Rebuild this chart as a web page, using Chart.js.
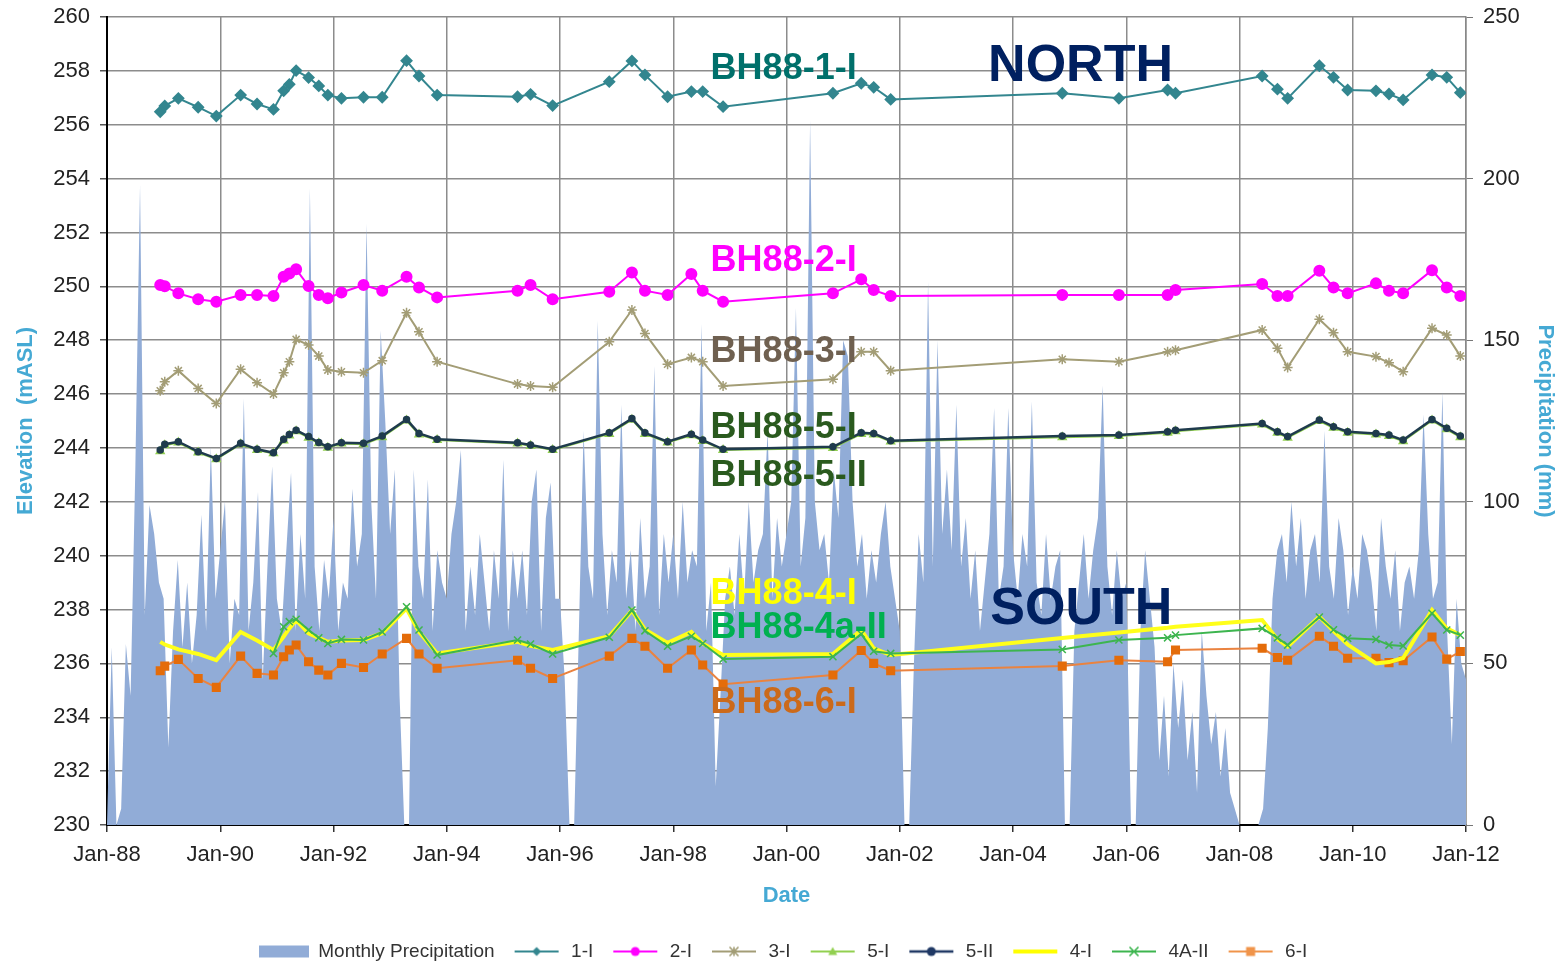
<!DOCTYPE html>
<html><head><meta charset="utf-8">
<script src="https://cdn.jsdelivr.net/npm/chart.js@4.4.1/dist/chart.umd.min.js"></script>
<style>html,body{margin:0;padding:0;background:#fff;overflow:hidden;}#wrap{width:1566px;height:965px;}</style>
</head><body><div id="wrap"><canvas id="c" width="1566" height="965"></canvas></div>
<script>
// ---------- DATA ----------
// sampling dates (decimal years) shared by the borehole series
const sampleDates = [1988.94,1989.02,1989.26,1989.61,1989.93,1990.36,1990.65,1990.94,1991.12,1991.22,
  1991.34,1991.56,1991.74,1991.90,1992.14,1992.53,1992.86,1993.29,1993.51,1993.83,
  1995.25,1995.48,1995.87,1996.87,1997.27,1997.50,1997.90,1998.32,1998.52,1998.88,
  2000.82,2001.32,2001.54,2001.84,2004.87,2005.87,2006.73,2006.87,2008.40,2008.67,
  2008.85,2009.41,2009.66,2009.91,2010.41,2010.64,2010.89,2011.40,2011.66,2011.90];

const bh1I = [256.48,256.70,256.98,256.65,256.32,257.10,256.77,256.57,257.26,257.50,
  258.01,257.75,257.44,257.10,256.98,257.02,257.02,258.38,257.81,257.10,
  257.04,257.13,256.71,257.60,258.37,257.85,257.04,257.23,257.23,256.67,
  257.17,257.54,257.39,256.94,257.17,256.98,257.29,257.17,257.81,257.32,
  256.98,258.19,257.76,257.29,257.26,257.14,256.92,257.85,257.76,257.19];

const bh2I = [250.05,250.00,249.74,249.52,249.43,249.68,249.68,249.64,250.36,250.48,
  250.63,250.01,249.68,249.56,249.77,250.05,249.84,250.36,249.96,249.59,
  249.84,250.05,249.52,249.80,250.51,249.84,249.68,250.46,249.84,249.43,
  249.74,250.26,249.86,249.64,249.68,249.68,249.68,249.86,250.09,249.64,
  249.64,250.58,249.96,249.74,250.11,249.84,249.74,250.60,249.96,249.64];

const bh3I = [246.12,246.46,246.87,246.21,245.65,246.92,246.42,246.00,246.79,247.20,
  248.03,247.82,247.41,246.89,246.83,246.79,247.24,249.02,248.31,247.20,
  246.37,246.30,246.25,247.94,249.12,248.25,247.11,247.36,247.20,246.30,
  246.55,247.57,247.57,246.87,247.29,247.20,247.57,247.63,248.38,247.70,
  246.99,248.78,248.28,247.57,247.39,247.16,246.83,248.44,248.19,247.41];

const bh5I = [243.88,244.10,244.20,243.83,243.58,244.14,243.92,243.80,244.28,244.46,
  244.62,244.38,244.17,244.01,244.16,244.14,244.40,245.02,244.50,244.29,
  244.16,244.08,243.92,244.52,245.05,244.52,244.20,244.47,244.26,243.92,
  244.00,244.52,244.50,244.24,244.40,244.44,244.56,244.62,244.87,244.56,
  244.38,245.00,244.75,244.56,244.50,244.44,244.25,245.02,244.69,244.40];

const bh5II = [243.92,244.14,244.23,243.86,243.61,244.17,243.95,243.82,244.32,244.50,
  244.66,244.42,244.20,244.04,244.19,244.17,244.44,245.06,244.54,244.32,
  244.19,244.11,243.95,244.56,245.09,244.56,244.23,244.51,244.29,243.95,
  244.04,244.56,244.54,244.27,244.44,244.48,244.60,244.66,244.91,244.60,
  244.42,245.04,244.79,244.60,244.54,244.48,244.29,245.06,244.73,244.44];

const bh4I = [236.80,236.70,236.52,236.35,236.12,237.17,236.85,236.50,237.00,237.30,
  237.61,237.12,236.95,236.80,236.85,236.87,237.12,238.04,237.17,236.37,
  236.80,236.65,236.50,237.01,237.96,237.26,236.76,237.17,236.74,236.31,
  236.35,237.24,236.56,236.31,236.94,237.15,237.32,237.36,237.61,236.90,
  236.62,237.74,237.20,236.70,236.00,236.05,236.20,237.98,237.30,237.05];

const bh4AII = [null,null,null,null,null,null,null,236.37,237.36,237.55,
  237.64,237.24,236.95,236.74,236.89,236.87,237.17,238.10,237.24,236.31,
  236.87,236.72,236.35,236.97,237.98,237.21,236.64,237.01,236.74,236.16,
  236.25,237.09,236.45,236.37,236.52,236.87,236.95,237.05,237.30,236.95,
  236.68,237.72,237.25,236.93,236.89,236.68,236.65,237.86,237.24,237.05];

const bh6I = [235.73,235.90,236.15,235.44,235.11,236.27,235.63,235.57,236.25,236.50,
  236.68,236.06,235.75,235.57,236.00,235.85,236.35,236.93,236.35,235.82,
  236.12,235.82,235.44,236.27,236.93,236.64,235.82,236.50,235.94,235.23,
  235.57,236.48,236.00,235.73,235.90,236.12,236.06,236.50,236.56,236.22,
  236.12,237.01,236.64,236.19,236.19,236.03,236.10,236.98,236.16,236.44];

// monthly precipitation (mm), Jan-1988 ... Jan-2012
const precipStartYear = 1988;
const precipMonthly = [
  0,55,0,5,56,40,110,198,65,99,90,75,
  70,24,60,82,55,75,50,65,96,60,117,70,
  85,100,50,70,65,132,60,75,103,45,80,111,
  70,60,85,109,60,90,70,197,80,60,82,70,
  95,60,75,70,104,80,90,186,100,70,153,124,
  90,110,40,0,0,110,80,70,107,60,85,75,
  70,90,100,116,60,80,65,90,75,60,85,70,
  113,60,85,70,85,65,100,110,60,95,106,70,
  70,45,0,0,60,122,80,70,156,90,65,85,
  75,130,70,85,60,95,70,80,142,65,90,75,
  90,70,100,75,85,80,155,60,75,12,40,70,
  80,65,90,70,100,75,85,90,122,70,95,80,
  90,100,160,80,95,218,100,85,90,75,110,95,
  150,145,100,80,90,70,85,75,90,100,80,70,
  60,0,0,50,90,75,168,80,150,90,110,85,
  130,80,95,70,85,60,75,90,129,70,80,129,
  85,70,90,80,131,75,65,90,70,80,85,0,
  0,60,75,90,70,85,95,136,80,65,85,70,
  75,0,0,60,85,70,55,20,40,15,50,30,
  45,20,35,10,60,40,25,35,15,30,10,5,
  0,0,0,0,0,5,30,70,85,90,75,100,
  80,95,70,85,90,75,122,80,70,95,85,65,
  80,70,90,85,75,60,95,80,70,85,60,75,
  80,70,85,127,90,70,75,134,60,25,70,50,
  45];

const seriesLabels = ['Monthly Precipitation','1-I','2-I','3-I','5-I','5-II','4-I','4A-II','6-I'];
const wellLabelTexts = ['BH88-1-I','NORTH','BH88-2-I','BH88-3-I','BH88-5-I','BH88-5-II','BH88-4-I','BH88-4a-II','BH88-6-I','SOUTH'];

// ---------- BUILD ----------
const FONT = "'Liberation Sans', Arial, sans-serif";
Chart.defaults.font.family = FONT;

function pts(vals){ const out=[]; sampleDates.forEach((d,i)=>{ if(vals[i]!==null) out.push({x:d,y:vals[i]}); }); return out; }
const precipPts = precipMonthly.map((v,i)=>({x: precipStartYear + i/12, y: v}));

const C = {
  precip:'#91ACD7', s1:'#33868F', s2:'#FF00FF', s3:'#A39D76', s5I:'#92D050', s5II:'#1F3B4D',
  s4I:'#FFFF1A', s4A:'#3DB54F', s6:'#E46C0A', axisTitle:'#45A9D4'
};

function drawMarker(ctx, type, x, y, r, color){
  ctx.fillStyle = color; ctx.strokeStyle = color; ctx.lineWidth = 1.6;
  ctx.beginPath();
  if(type==='diamond'){ ctx.moveTo(x,y-r); ctx.lineTo(x+r,y); ctx.lineTo(x,y+r); ctx.lineTo(x-r,y); ctx.closePath(); ctx.fill(); }
  else if(type==='circle'){ ctx.arc(x,y,r,0,Math.PI*2); ctx.fill(); }
  else if(type==='square'){ ctx.rect(x-r,y-r,2*r,2*r); ctx.fill(); }
  else if(type==='triangle'){ ctx.moveTo(x,y-r); ctx.lineTo(x+r,y+r*0.8); ctx.lineTo(x-r,y+r*0.8); ctx.closePath(); ctx.fill(); }
  else if(type==='star'){ ctx.moveTo(x-r,y-r); ctx.lineTo(x+r,y+r); ctx.moveTo(x+r,y-r); ctx.lineTo(x-r,y+r); ctx.moveTo(x,y-r); ctx.lineTo(x,y+r); ctx.stroke(); }
  else if(type==='cross'){ ctx.moveTo(x-r,y-r); ctx.lineTo(x+r,y+r); ctx.moveTo(x+r,y-r); ctx.lineTo(x-r,y+r); ctx.stroke(); }
}
function icon(kind, color, marker, lw){
  const cv = document.createElement('canvas'); cv.width = 50; cv.height = 16;
  const ctx = cv.getContext('2d');
  if(kind==='box'){ ctx.fillStyle = color; ctx.fillRect(0,2,50,12); return cv; }
  ctx.strokeStyle = color; ctx.lineWidth = lw; ctx.beginPath(); ctx.moveTo(3,8); ctx.lineTo(47,8); ctx.stroke();
  if(marker) drawMarker(ctx, marker, 25, 8, 4.5, color);
  return cv;
}
const legendIcons = [
  icon('box', C.precip), icon('line', C.s1, 'diamond', 2), icon('line', C.s2, 'circle', 2),
  icon('line', C.s3, 'star', 2), icon('line', C.s5I, 'triangle', 2), icon('line', '#1F3864', 'circle', 2.5),
  icon('line', '#FFFF00', null, 4), icon('line', C.s4A, 'cross', 2), icon('line', '#F0944A', 'square', 2)
];

const datasets = [
  {label: seriesLabels[0], data: precipPts, yAxisID:'yP', backgroundColor: C.precip, borderColor:'rgba(0,0,0,0)', borderWidth:1, pointRadius:0, fill:'origin', tension:0, order:100},
  {label: seriesLabels[1], data: pts(bh1I), borderColor:C.s1, backgroundColor:C.s1, borderWidth:2, pointStyle:'rectRot', pointRadius:5, order:1},
  {label: seriesLabels[2], data: pts(bh2I), borderColor:C.s2, backgroundColor:C.s2, borderWidth:2, pointStyle:'circle', pointRadius:5, order:2},
  {label: seriesLabels[3], data: pts(bh3I), borderColor:C.s3, backgroundColor:C.s3, borderWidth:2, pointStyle:'star', pointRadius:5, pointBorderWidth:1.5, order:3},
  {label: seriesLabels[4], data: pts(bh5I), borderColor:C.s5I, backgroundColor:C.s5I, borderWidth:2, pointStyle:'triangle', pointRadius:4, order:5},
  {label: seriesLabels[5], data: pts(bh5II), borderColor:C.s5II, backgroundColor:C.s5II, borderWidth:2.5, pointStyle:'circle', pointRadius:2.5, order:4},
  {label: seriesLabels[6], data: pts(bh4I), borderColor:C.s4I, backgroundColor:C.s4I, borderWidth:4, pointRadius:0, order:7},
  {label: seriesLabels[7], data: pts(bh4AII), borderColor:C.s4A, backgroundColor:C.s4A, borderWidth:2, pointStyle:'crossRot', pointRadius:5, pointBorderWidth:1.5, order:6},
  {label: seriesLabels[8], data: pts(bh6I), borderColor:'#EA8340', backgroundColor:C.s6, borderWidth:2, pointStyle:'rect', pointRadius:5, pointBorderColor:C.s6, order:8}
];
datasets.forEach((d,i)=>{ if(i>0){ d.yAxisID='y'; d.fill=false; d.tension=0; } });

// annotation text placement (in data units, at the vertical centre of the capitals)
const labelCfg = [
  {year:1998.66, elev:258.18, size:36, color:'#00706B'},
  {year:2003.56, elev:258.33, size:52, color:'#002060'},
  {year:1998.66, elev:251.05, size:36, color:'#FF00FF'},
  {year:1998.66, elev:247.67, size:36, color:'#6F6050'},
  {year:1998.66, elev:244.85, size:36, color:'#2A5A1E'},
  {year:1998.66, elev:243.07, size:36, color:'#2A5A1E'},
  {year:1998.66, elev:238.69, size:36, color:'#FFFF00'},
  {year:1998.66, elev:237.42, size:36, color:'#00B050'},
  {year:1998.66, elev:234.64, size:36, color:'#CC6A1A'},
  {year:2003.60, elev:238.17, size:52, color:'#002060'}
];
const wellLabelPlugin = {
  id:'wellLabels',
  afterDatasetsDraw(chart){
    const {ctx, scales:{x, y}} = chart;
    ctx.save();
    ctx.textAlign='left'; ctx.textBaseline='alphabetic';
    labelCfg.forEach((c,i)=>{
      ctx.font = `bold ${c.size}px ${FONT}`;
      ctx.fillStyle = c.color;
      ctx.fillText(wellLabelTexts[i], x.getPixelForValue(c.year), y.getPixelForValue(c.elev) + 0.358*c.size);
    });
    ctx.restore();
  }
};

const GRID = '#8c8c8c';
new Chart(document.getElementById('c'), {
  type:'line',
  data:{datasets},
  options:{
    responsive:false, animation:false, devicePixelRatio:1,
    layout:{padding:{top:17,left:0,right:0,bottom:-6}},
    plugins:{
      tooltip:{enabled:false},
      legend:{
        position:'bottom',
        labels:{
          usePointStyle:true, pointStyleWidth:50, padding:17, color:'#333',
          font:{size:19, family:FONT},
          generateLabels(chart){
            return chart.data.datasets.map((ds,i)=>({text:ds.label, pointStyle:legendIcons[i], fillStyle:'rgba(0,0,0,0)', strokeStyle:'rgba(0,0,0,0)', lineWidth:0, hidden:false, datasetIndex:i, fontColor:'#333'}));
          }
        }
      }
    },
    scales:{
      x:{
        type:'linear', position:'bottom', min:1988, max:2012,
        ticks:{stepSize:2, color:'#222', font:{size:22}, padding:10, maxRotation:0, autoSkip:false,
          callback:(v)=>'Jan-' + String(Math.round(v)%100).padStart(2,'0')},
        grid:{color:GRID, lineWidth:1.5, tickLength:7, tickColor:'#333'},
        border:{color:'#000', width:2},
        title:{display:true, text:'Date', color:C.axisTitle, font:{size:22, weight:'bold'}, padding:{top:0,bottom:16}},
        afterFit(s){ s.height = 100; }
      },
      y:{
        position:'left', min:230, max:260,
        ticks:{stepSize:2, color:'#222', font:{size:22}, padding:10},
        grid:{color:GRID, lineWidth:1.5, tickLength:7, tickColor:'#555'},
        border:{color:'#000', width:2},
        title:{display:true, text:'Elevation  (mASL)', color:C.axisTitle, font:{size:22, weight:'bold'}, padding:{top:13,bottom:0}},
        afterFit(s){ s.width = 107; s.paddingTop = 8; s.paddingBottom = 8; }
      },
      yP:{
        position:'right', min:0, max:250,
        ticks:{stepSize:50, color:'#222', font:{size:22}, padding:10},
        grid:{drawOnChartArea:false, color:GRID, tickLength:7, tickColor:'#777'},
        border:{color:'#888', width:1.5},
        title:{display:true, text:'Precipitation (mm)', color:C.axisTitle, font:{size:22, weight:'bold'}, padding:{top:8,bottom:0}},
        afterFit(s){ s.width = 100; s.paddingTop = 8; s.paddingBottom = 8; }
      }
    }
  },
  plugins:[wellLabelPlugin]
});
</script></body></html>
